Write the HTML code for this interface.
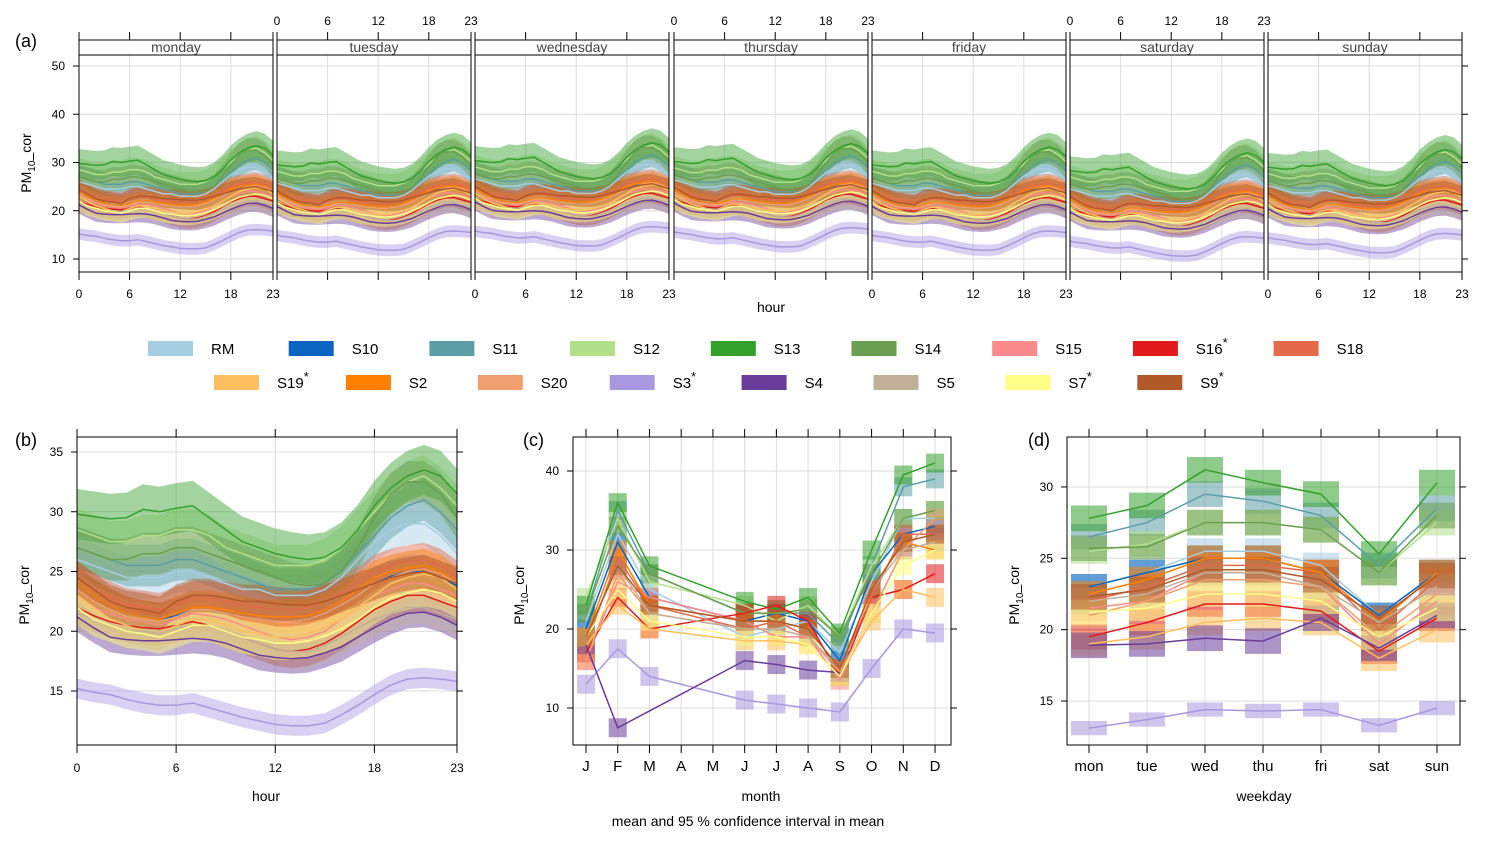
<!DOCTYPE html>
<html><head><meta charset="utf-8"><style>
body{margin:0;background:#fff}
svg{display:block;font-family:"Liberation Sans",sans-serif}
</style></head><body>
<svg id="chart" width="1486" height="841" viewBox="0 0 1486 841" xmlns="http://www.w3.org/2000/svg"></svg>
<script>
const sites=["RM","S10","S11","S12","S13","S14","S15","S16","S18","S19","S2","S20","S3","S4","S5","S7","S9"];
const colors=["#a6cee3","#0a64c0","#5b9ea6","#b2df8a","#33a02c","#6a9e50","#fb8a8c","#e31a1c","#e4694a","#fdbf5f","#ff7f00","#f0a070","#a898e0","#6a3d9a","#c0b09a","#ffff88","#b15928"];
const starred=["S16","S19","S3","S7","S9"];
const hours=[0,1,2,3,4,5,6,7,8,9,10,11,12,13,14,15,16,17,18,19,20,21,22,23];
const days=["monday","tuesday","wednesday","thursday","friday","saturday","sunday"];
const dayOffset=[0,-0.3,0.6,0.4,-0.3,-1.5,-0.8];
const months=["J","F","M","A","M","J","J","A","S","O","N","D"];
const weekdays=["mon","tue","wed","thu","fri","sat","sun"];
const diurnal=[
[26,25.5,25,24.5,24.5,24.5,25,25,24.5,24,23.5,23.5,23,23,23,23.5,24.5,26,27.5,28.5,29,29,28,26.5],
[24,23,22.2,21.5,21.2,21,21.3,21.8,21.8,21.5,21.2,21,20.8,20.8,21,21.5,22.2,23,24,24.6,25,25,24.5,23.8],
[27,26.5,26,25.5,25.5,25.5,26,26,25.5,25,24.5,24,23.5,23.5,23.5,24,25,26.5,28,29.5,30.5,31,30,28.5],
[28.5,28,27.5,27.5,28,28,28.5,28.5,28,27,26.5,26,25.5,25.5,25.5,26,27,28.5,30,31.5,32.5,33,32,30.5],
[29.8,29.6,29.4,29.5,30.2,30,30.3,30.5,29.5,28.5,27.5,27,26.5,26.2,26,26.2,27,28.5,30.5,32,33,33.5,33,31.5],
[27,26.5,26,26,26.5,26.5,27,27,26.5,26,25.5,25,24.5,24,23.8,24,25,27,29.5,31.5,32.5,32.5,31.5,29.5],
[23,22,21.5,21,20.8,20.5,21,21.5,21.3,21,20.5,20,19.5,19.3,19.5,20,21,22,23,23.5,24,24,23.5,23],
[22,21.3,20.8,20.5,20.3,20.2,20.5,20.8,20.5,20,19.5,19,18.5,18.3,18.5,19,19.8,20.8,21.8,22.5,23,23,22.5,22],
[24.5,23.5,22.8,22.2,22,21.8,22.3,22.8,22.8,22.5,22.2,22,21.8,21.8,22,22.5,23.2,24,25,25.5,25.8,26,25.5,24.5],
[23,22,21,20.5,20,19.8,20.5,21,21,20.5,20,19.8,19.5,19.5,19.8,20.3,21,22,23,24,24.5,24.8,24.5,23.5],
[24,23,22.2,21.5,21.2,21,21.5,22,22,21.8,21.5,21.3,21.2,21.2,21.3,21.8,22.5,23.5,24.5,25,25.3,25.5,25,24],
[23.5,22.5,21.8,21.2,21,20.8,21.2,21.8,21.8,21.5,21.2,21,20.8,20.8,21,21.5,22.2,23,24,24.5,25,25.2,24.8,24],
[15.2,14.9,14.7,14.3,14,13.8,13.8,14,13.6,13.2,12.8,12.5,12.2,12.1,12.1,12.3,13,13.8,14.7,15.5,16,16.1,16,15.8],
[21.2,20.3,19.5,19.3,19.2,19.2,19.3,19.4,19.3,19,18.5,18,17.8,17.7,17.8,18.2,18.7,19.5,20.3,21,21.5,21.6,21.2,20.5],
[21.5,21,20.5,20,20,19.8,20.2,20.5,20.5,20,19.5,19,18.5,18.3,18.3,18.8,19.5,20.3,21,21.5,22,22,21.5,21],
[22,21,20.5,20,19.8,19.5,20,20.5,20.5,20,19.5,19.3,19,19,19.2,19.6,20.2,21,22,22.8,23.2,23.5,23.2,22.5],
[24.5,23.5,22.5,22,21.8,21.5,22.5,23,23,22.8,22.5,22.5,22.3,22.2,22.2,22.5,23,23.5,24,24.5,24.8,25,24.5,24]
];
const ciHalf=[2.5,2,2.5,2.5,3,2.5,2,2,2,2,2,2,1.2,1.8,2,2,2];
const monthly=[
[21,32,25,null,null,19,20,21,17,26,34,34],
[20,31,24,null,null,21,22,21,16,27,32,33],
[22,35,27,null,null,22,22,22,18,28,38,39],
[24,34,26,null,null,23,21,23,19,28,34,35],
[23,36,28,null,null,23.5,22.5,24,19.5,30,39.5,41],
[22,33,27,null,null,22,22,22.5,19,27,34,35],
[16,26,24,null,null,21,19,19,13.5,22,30,31],
[17,24,20,null,null,22,23,21,14,24,25,27],
[18,29,23,null,null,20,21,19,15,24,32,32],
[18,23,20,null,null,18.5,18.5,18,14,21,25,24],
[19,30,23,null,null,21,21,20,15,25,31,30],
[16,27,22,null,null,20,20,19,14.5,22,30,34],
[13,17.5,14,null,null,11,10.5,10,9.5,15,20,19.5],
[18,7.5,null,null,null,16,15.5,14.8,14.5,null,null,null],
[19,28,22,null,null,20,20,19,15,25,30,31],
[19,25,21,null,null,19,19,18,14,22,28,30],
[19,28,23,null,null,21,21,20,15,25,31,32]
];
const weekly=[
[23,24,25.5,25.5,24.5,21,24],
[23,24,25,25,24,21,24],
[26.5,27.5,29.5,29,28,24.5,28.5],
[25.5,26,27.5,27.5,27,24,27.5],
[27.8,28.7,31.2,30.3,29.5,25.3,30.3],
[25.7,25.8,27.5,27.5,27,24,28],
[21.5,22,24,24,23,19,22],
[19.5,20.5,21.8,21.8,21.3,18.5,20.8],
[22,23,24.5,24.5,24,20,23.5],
[19,19.5,20.5,20.8,20.5,18,20],
[22.5,23.5,25,25,24,20.5,24],
[21,22,23.5,23.5,23,19.5,22.5],
[13.1,13.7,14.4,14.3,14.4,13.3,14.5],
[18.9,19,19.4,19.2,20.8,18.7,21],
[22,22.5,24,24,23,20.5,23],
[21.2,21.5,22.5,22.5,22,19.5,21.5],
[22.3,22.8,24.2,24.2,23.5,20.8,23.8]
];
const aTicks=[10,20,30,40,50];
const bTicks=[15,20,25,30,35];
const cTicks=[10,20,30,40];
const dTicks=[15,20,25,30];
const hourTicks=[0,6,12,18,23];

const svg=document.getElementById('chart');
const NS="http://www.w3.org/2000/svg";
function el(tag,attrs,parent){const e=document.createElementNS(NS,tag);for(const k in attrs)e.setAttribute(k,attrs[k]);(parent||svg).appendChild(e);return e;}
function txt(s,x,y,size,anchor,parent,fill){const t=el('text',{x:x,y:y,'font-size':size,'text-anchor':anchor||'middle',fill:fill||'#000'},parent);t.textContent=s;return t;}
function lin(x1,y1,x2,y2,stroke,w,parent){return el('line',{x1:x1,y1:y1,x2:x2,y2:y2,stroke:stroke,'stroke-width':w||1},parent);}

function frame(g,x0,y0,x1,y1,xs,ys,xTickVals,yTickVals){
  for(const v of xTickVals){const X=xs(v);const gl=lin(X,y0,X,y1,'#dcdcdc',1,g);}
  for(const v of yTickVals){const Y=ys(v);const gl=lin(x0,Y,x1,Y,'#dcdcdc',1,g);}
}
function box(g,x0,y0,x1,y1,xs,ys,xTickVals,yTickVals,opt){
  const r=el('rect',{x:x0,y:y0,width:x1-x0,height:y1-y0,fill:'none',stroke:'#000','stroke-width':1},g);
  
  
  const tTop=opt.topTickY!==undefined?opt.topTickY:y0;
  for(const v of xTickVals){const X=xs(v);
    if(opt.bottomTicks)lin(X,y1,X,y1+8,'#000',1,g);
    if(opt.topTicks)lin(X,tTop-8,X,tTop,'#000',1,g);
    if(opt.bottomLabels){const t=txt(opt.xfmt?opt.xfmt(v):String(v),X,y1+(opt.xlOff||27),opt.xls||12,'middle',g);}
  }
  for(const v of yTickVals){const Y=ys(v);
    if(opt.leftTicks)lin(x0-6,Y,x0,Y,'#000',1,g);
    if(opt.rightTicks)lin(x1,Y,x1+6,Y,'#000',1,g);
    if(opt.leftLabels){const t=txt(String(v),x0-14,Y+4,12,'end',g);}
  }
}
function bandPath(xsArr,lo,hi){let d='';for(let i=0;i<xsArr.length;i++)d+=(i?'L':'M')+xsArr[i].toFixed(1)+','+hi[i].toFixed(1);for(let i=xsArr.length-1;i>=0;i--)d+='L'+xsArr[i].toFixed(1)+','+lo[i].toFixed(1);return d+'Z';}
function linePath(xsArr,ys){let d='';for(let i=0;i<xsArr.length;i++)d+=(i?'L':'M')+xsArr[i].toFixed(1)+','+ys[i].toFixed(1);return d;}
function ylab(x,y,g){const t=el('text',{x:x,y:y,'font-size':14,'text-anchor':'middle',transform:'rotate(-90 '+x+' '+y+')'},g);
  t.innerHTML='PM<tspan font-size="10" dy="4">10</tspan><tspan dy="-4">_cor</tspan>';}

// ---------------- Panel (a)
const gA=el('g',{});


const aLabel=txt('(a)',15,47,18,'start',gA);


const aX0=[79,277,475,674,872,1070,1268];
const aW=194, aTop=55, aBot=272;
const ysA=v=>259-(v-10)*4.825;
days.forEach((day,di)=>{
  const x0=aX0[di],x1=x0+aW;const xs=h=>x0+h*aW/23;
  const g=el('g',{},gA);
  
  
  frame(g,x0,aTop,x1,aBot,xs,ysA,[6,12,18],aTicks);
  const xsArr=hours.map(xs);
  sites.forEach((s,si)=>{
    const vals=diurnal[si].map(v=>v+dayOffset[di]);
    const b=el('path',{d:bandPath(xsArr,vals.map(v=>ysA(v-ciHalf[si])),vals.map(v=>ysA(v+ciHalf[si]))),fill:colors[si],'fill-opacity':0.45,stroke:'none'},g);
    
    
  });
  sites.forEach((s,si)=>{
    const vals=diurnal[si].map(v=>v+dayOffset[di]);
    const l=el('path',{d:linePath(xsArr,vals.map(ysA)),fill:'none',stroke:colors[si],'stroke-width':1.5},g);
    
    
  });
  const strip=el('rect',{x:x0,y:40,width:aW,height:15,fill:'#fff',stroke:'#000'},g);
  
  
  const st=txt(day,(x0+x1)/2,52,14,'middle',g,'#444');
  
  
  const even=di%2===0;
  box(g,x0,aTop,x1,aBot,xs,ysA,hourTicks,aTicks,{bottomTicks:true,topTicks:true,topTickY:40,bottomLabels:even,xlOff:26,leftTicks:di===0,leftLabels:di===0,rightTicks:di===6});
  if(!even){hourTicks.forEach(h=>{const t=txt(String(h),xs(h),25,12,'middle',g);});}
});
ylab(31,163,gA);
const aXT=txt('hour',771,312,14,'middle',gA);



// ---------------- Legend
const gL=el('g',{});


sites.forEach((s,si)=>{
  const row=si<9?0:1;const x=row===0?148+si*140.7:214+(si-9)*131.9;const y=row===0?341:375;
  const g=el('g',{},gL);
  
  
  el('rect',{x:x,y:y,width:45,height:15,fill:colors[si]},g);
  const t=txt(s,x+63,y+13,15,'start',g);
  if(starred.includes(s)){const sp=el('tspan',{dy:-7,'font-size':13},t);sp.textContent='*';}
});

// ---------------- Panel (b)
const gB=el('g',{});


const bLabel=txt('(b)',15,446,18,'start',gB);


{
  const x0=77,x1=457,y0=437,y1=745;const xs=h=>x0+h*(x1-x0)/23;const ys=v=>691-(v-15)*11.95;
  frame(gB,x0,y0,x1,y1,xs,ys,[6,12,18],bTicks);
  const xsArr=hours.map(xs);
  sites.forEach((s,si)=>{const b=el('path',{d:bandPath(xsArr,diurnal[si].map(v=>ys(v-ciHalf[si]*0.7)),diurnal[si].map(v=>ys(v+ciHalf[si]*0.7))),fill:colors[si],'fill-opacity':0.45},gB);
    
    });
  sites.forEach((s,si)=>{const l=el('path',{d:linePath(xsArr,diurnal[si].map(ys)),fill:'none',stroke:colors[si],'stroke-width':1.5},gB);
    
    });
  box(gB,x0,y0,x1,y1,xs,ys,hourTicks,bTicks,{bottomTicks:true,topTicks:true,bottomLabels:true,xlOff:27,leftTicks:true,leftLabels:true,rightTicks:true});
  ylab(29,595,gB);
  const t=txt('hour',266,801,14,'middle',gB);
  
  
}

// ---------------- Panel (c)
const gC=el('g',{});


const cLabel=txt('(c)',523,446,18,'start',gC);


{
  const x0=573,x1=951,y0=437,y1=745;const xs=m=>586+m*31.73;const ys=v=>708-(v-10)*7.9;
  const mi=months.map((m,i)=>i);
  frame(gC,x0,y0,x1,y1,xs,ys,mi,cTicks);
  sites.forEach((s,si)=>{monthly[si].forEach((v,i)=>{if(v===null)return;
    const r=el('rect',{x:xs(i)-9,y:ys(v+1.2),width:18,height:ys(v-1.2)-ys(v+1.2),fill:colors[si],'fill-opacity':0.55},gC);
    
    });});
  sites.forEach((s,si)=>{const xsA=[],ysA2=[];monthly[si].forEach((v,i)=>{if(v!==null){xsA.push(xs(i));ysA2.push(ys(v));}});
    const l=el('path',{d:linePath(xsA,ysA2),fill:'none',stroke:colors[si],'stroke-width':1.5},gC);
    
    });
  box(gC,x0,y0,x1,y1,xs,ys,mi,cTicks,{bottomTicks:true,topTicks:true,bottomLabels:true,xfmt:i=>months[i],xls:15,xlOff:26,leftTicks:true,leftLabels:true,rightTicks:true});
  ylab(524,595,gC);
  const t=txt('month',761,801,14,'middle',gC);
  
  
  const c=txt('mean and 95 % confidence interval in mean',748,826,14,'middle',gC);
  
  
}

// ---------------- Panel (d)
const gD=el('g',{});


const dLabel=txt('(d)',1028,446,18,'start',gD);


{
  const x0=1067,x1=1460,y0=437,y1=745;const xs=d=>1089+d*58;const ys=v=>701-(v-15)*14.27;
  const di=weekdays.map((d,i)=>i);
  frame(gD,x0,y0,x1,y1,xs,ys,di,dTicks);
  sites.forEach((s,si)=>{weekly[si].forEach((v,i)=>{
    const h=si===12?0.5:0.9;
    const r=el('rect',{x:xs(i)-18,y:ys(v+h),width:36,height:ys(v-h)-ys(v+h),fill:colors[si],'fill-opacity':0.55},gD);
    
    });});
  sites.forEach((s,si)=>{const l=el('path',{d:linePath(di.map(xs),weekly[si].map(ys)),fill:'none',stroke:colors[si],'stroke-width':1.5},gD);
    
    });
  box(gD,x0,y0,x1,y1,xs,ys,di,dTicks,{bottomTicks:true,topTicks:true,bottomLabels:true,xfmt:i=>weekdays[i],xls:15,xlOff:26,leftTicks:true,leftLabels:true,rightTicks:true});
  ylab(1019,595,gD);
  const t=txt('weekday',1264,801,14,'middle',gD);
  
  
}
</script>
</body></html>
